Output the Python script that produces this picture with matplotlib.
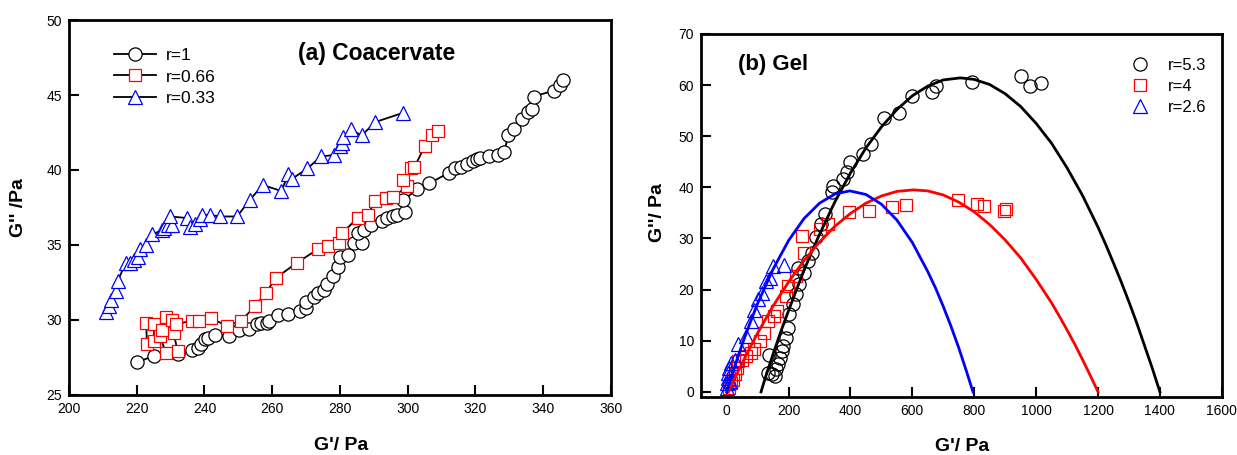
import matplotlib
matplotlib.use('Agg')
import matplotlib.pyplot as plt

plt.rcParams['font.family'] = ['Liberation Sans', 'DejaVu Sans']

# (a) Coacervate: G' and G'' (Pa)
r1_x = [220.2, 225.1, 232.1, 236.2, 238.0, 239.1, 240.1, 240.9, 243.2, 247.1,
        250.2, 253.1, 255.5, 256.6, 258.4, 259.0, 261.7, 264.8, 268.3, 270.1,
        270.1, 272.4, 273.6, 275.3, 276.3, 278.0, 279.4, 280.0, 282.3, 284.1,
        286.4, 285.3, 287.0, 289.3, 292.3, 294.0, 295.6, 297.0, 299.3, 298.7,
        302.8, 306.3, 312.1, 313.9, 315.7, 317.4, 319.2, 320.4, 321.5, 323.9,
        326.8, 328.5, 329.7, 331.4, 333.8, 335.5, 336.7, 337.3, 343.2, 344.9,
        346.0]
r1_y = [27.2, 27.6, 27.7, 28.0, 28.1, 28.4, 28.7, 28.8, 29.0, 28.9,
        29.3, 29.4, 29.7, 29.8, 29.8, 29.95, 30.3, 30.4, 30.6, 30.8,
        31.2, 31.55, 31.8, 32.0, 32.4, 32.9, 33.55, 34.2, 34.3, 35.1,
        35.1, 35.8, 36.0, 36.3, 36.6, 36.8, 36.9, 37.0, 37.2, 38.0,
        38.7, 39.1, 39.8, 40.1, 40.2, 40.4, 40.6, 40.7, 40.8, 40.9,
        41.0, 41.2, 42.3, 42.7, 43.4, 43.9, 44.1, 44.9, 45.3, 45.7,
        46.0]

r066_x = [223.0, 222.8, 225.1, 225.1, 226.9, 228.6, 232.1, 230.9, 227.4, 228.6,
          230.3, 231.5, 236.2, 238.5, 242.0, 246.7, 250.8, 254.9, 258.1, 261.1,
          267.2, 273.4, 276.5, 279.8, 280.6, 285.3, 288.2, 290.3, 293.5, 295.6,
          299.9, 298.7, 301.1, 302.0, 305.1, 307.1, 309.0]
r066_y = [28.4, 29.8, 29.7, 28.6, 28.9, 27.8, 27.9, 29.1, 29.3, 30.2,
          30.0, 29.7, 29.95, 29.95, 30.1, 29.6, 29.95, 30.9, 31.8, 32.8,
          33.8, 34.7, 34.9, 35.1, 35.8, 36.8, 37.0, 37.9, 38.1, 38.2,
          38.9, 39.3, 40.1, 40.2, 41.6, 42.3, 42.6]

r033_x = [210.9, 211.7, 212.5, 214.0, 214.4, 216.7, 218.1, 219.3, 220.5, 221.1,
          222.6, 224.6, 227.5, 228.1, 229.2, 230.4, 229.8, 234.7, 235.6, 237.1,
          238.6, 239.4, 241.5, 244.6, 249.6, 253.4, 257.2, 262.7, 264.8, 265.8,
          270.4, 274.4, 278.2, 280.0, 280.6, 280.9, 283.2, 286.4, 290.5, 298.5]
r033_y = [30.55, 30.9, 31.3, 31.9, 32.6, 33.8, 33.8, 34.0, 34.2, 34.7,
          35.0, 35.7, 36.0, 36.1, 36.3, 36.3, 36.9, 36.8, 36.2, 36.4,
          36.7, 37.0, 37.0, 36.9, 36.9, 38.0, 39.0, 38.6, 39.7, 39.4,
          40.1, 40.9, 41.0, 41.6, 41.8, 42.2, 42.7, 42.3, 43.2, 43.8]

# (b) Gel: measured points
r53_x = [134, 138, 147, 156, 160, 166, 173, 179, 183, 192, 198, 202, 215, 224,
         233, 249, 230, 262, 275, 288, 304, 317, 339, 345, 377, 390, 400, 441,
         466, 509, 556, 598, 665, 677, 792, 952, 981, 1016]
r53_y = [3.7, 7.3, 3.4, 3.1, 4.4, 5.4, 6.7, 8.0, 8.9, 10.6, 12.5, 15.2, 17.1, 19.1,
         21.0, 23.3, 24.3, 25.6, 27.2, 30.2, 32.8, 34.7, 39.0, 40.3, 41.6, 42.9, 45.0, 46.5,
         48.5, 53.5, 54.5, 57.8, 58.6, 59.8, 60.5, 61.7, 59.9, 60.4]

r4_x = [6, 13, 19, 26, 32, 38, 51, 64, 77, 89, 109, 121, 134, 153, 164, 192,
        198, 224, 249, 243, 300, 326, 396, 460, 534, 581, 748, 809, 831, 895, 903]
r4_y = [0.8, 1.8, 2.4, 3.4, 4.7, 6.0, 6.3, 7.0, 7.6, 8.3, 9.9, 11.6, 13.8, 14.8, 15.8, 18.7,
        20.7, 22.7, 27.1, 30.4, 31.8, 32.8, 35.1, 35.4, 36.2, 36.6, 37.5, 36.8, 36.4, 35.3, 35.7]

r26_x = [0, 0, 3, 3, 6, 10, 15, 26, 38, 64, 77, 89, 100, 115, 128, 141, 151, 185]
r26_y = [0.8, 1.8, 2.7, 3.7, 4.7, 2.2, 5.7, 6.3, 9.3, 10.9, 13.8, 16.1, 18.1, 19.4,
         21.7, 22.3, 24.6, 24.9]

# (b) Gel: fitted curves
fit53_x = [111, 125, 150, 175, 200, 225, 250, 275, 300, 350, 400, 450, 500, 550, 600,
           650, 700, 755, 800, 850, 900, 950, 1000, 1050, 1100, 1150, 1200, 1225,
           1250, 1275, 1300, 1325, 1350, 1375, 1400]
fit53_y = [0, 2.8, 7.4, 11.8, 15.9, 19.9, 23.8, 27.4, 30.8, 37.2, 42.8, 47.7, 51.8, 55.2, 57.9,
           59.8, 61.0, 61.4, 61.1, 60.1, 58.3, 55.8, 52.5, 48.6, 43.8, 38.4, 32.2, 28.8,
           25.2, 21.5, 17.6, 13.5, 9.1, 4.7, 0]

fit4_x = [6, 25, 50, 75, 100, 150, 200, 250, 300, 350, 400, 450, 500, 550, 603,
          650, 700, 750, 800, 850, 900, 950, 1000, 1050, 1075, 1100, 1125, 1150, 1175, 1200]
fit4_y = [0, 2.5, 5.6, 8.6, 11.5, 16.8, 21.5, 25.7, 29.3, 32.4, 34.9, 36.9, 38.3, 39.2, 39.5,
          39.3, 38.5, 37.1, 35.2, 32.7, 29.7, 26.2, 22.0, 17.4, 14.8, 12.1, 9.3, 6.3, 3.2, 0]

fit26_x = [0, 12, 25, 50, 75, 100, 150, 200, 250, 300, 350, 398, 450, 500, 550, 600,
           650, 675, 700, 725, 750, 775, 796]
fit26_y = [0, 2.3, 4.8, 9.3, 13.4, 17.3, 24.0, 29.6, 33.9, 36.9, 38.7, 39.3, 38.6, 36.7, 33.6, 29.2,
           23.5, 20.3, 16.7, 12.8, 8.6, 4.0, 0]

fig = plt.figure(figsize=(12.37, 4.55), dpi=100)
ax1 = fig.add_axes([0.0558, 0.132, 0.438, 0.824])
ax2 = fig.add_axes([0.5667, 0.1275, 0.421, 0.798])

# ---- panel (a)
ax1.plot(r1_x, r1_y, '-', color='black', lw=1.3, marker='o', ms=9.5,
         mfc='white', mec='black', mew=0.9, label='r=1')
ax1.plot(r066_x, r066_y, '-', color='black', lw=1.3, marker='s', ms=8.5,
         mfc='white', mec='#ff0000', mew=0.9, label='r=0.66')
ax1.plot(r033_x, r033_y, '-', color='black', lw=1.3, marker='^', ms=9.5,
         mfc='white', mec='#0000ff', mew=0.9, label='r=0.33')
ax1.set_xlim(200, 360)
ax1.set_ylim(25, 50)
ax1.set_xticks(range(200, 361, 20))
ax1.set_yticks(range(25, 51, 5))
ax1.text(0.568, 0.912, '(a) Coacervate', transform=ax1.transAxes,
         ha='center', va='center', fontsize=16.5, fontweight='bold')
ax1.legend(loc='upper left', bbox_to_anchor=(0.083, 0.925), frameon=False,
           fontsize=12.5, handlelength=2.4, handletextpad=0.6,
           labelspacing=0.35, borderpad=0, borderaxespad=0)
ax1.set_xlabel("G'/ Pa", fontsize=14, fontweight='bold')
ax1.set_ylabel("G'' /Pa", fontsize=14, fontweight='bold')
ax1.xaxis.set_label_coords(0.502, -0.112)
ax1.yaxis.set_label_coords(-0.077, 0.501)

# ---- panel (b)
ax2.plot(r53_x, r53_y, 'o', ms=9.5, mfc='none', mec='black', mew=0.9, label='r=5.3')
ax2.plot(r4_x, r4_y, 's', ms=9, mfc='none', mec='#ff0000', mew=0.9, label='r=4')
ax2.plot(r26_x, r26_y, '^', ms=9.5, mfc='none', mec='#0000ff', mew=0.9, label='r=2.6')
ax2.plot(fit53_x, fit53_y, '-', color='black', lw=2, zorder=4)
ax2.plot(fit4_x, fit4_y, '-', color='#ff0000', lw=2, zorder=4)
ax2.plot(fit26_x, fit26_y, '-', color='#0000ff', lw=2, zorder=4)
ax2.set_xlim(-83, 1600)
ax2.set_ylim(-1, 70)
ax2.set_xticks(range(0, 1601, 200))
ax2.set_yticks(range(0, 71, 10))
ax2.text(0.071, 0.917, '(b) Gel', transform=ax2.transAxes,
         ha='left', va='center', fontsize=16, fontweight='bold')
ax2.legend(loc='upper left', bbox_to_anchor=(0.827, 0.933), frameon=False,
           fontsize=12, handlelength=1.0, handletextpad=1.2,
           labelspacing=0.35, borderpad=0, borderaxespad=0)
ax2.set_xlabel("G'/ Pa", fontsize=14, fontweight='bold')
ax2.set_ylabel("G''/ Pa", fontsize=14, fontweight='bold')
ax2.xaxis.set_label_coords(0.501, -0.113)
ax2.yaxis.set_label_coords(-0.067, 0.507)

for ax in (ax1, ax2):
    for s in ax.spines.values():
        s.set_linewidth(2)
    ax.tick_params(direction='in', length=7, width=1.5, labelsize=10, pad=5)

fig.savefig('out.png', dpi=100)
